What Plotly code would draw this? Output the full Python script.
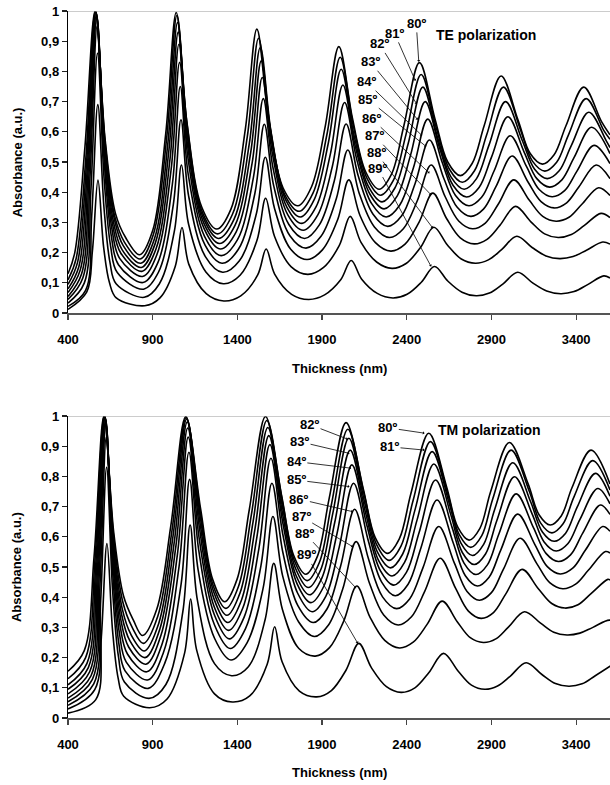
import plotly.graph_objects as go

# ---------------- data ----------------
angles = [80, 81, 82, 83, 84, 85, 86, 87, 88, 89]

# TE polarization: thickness (nm) and absorbance points along each curve (80..89 deg)
te_x = [
    [400, 440, 500, 560, 620, 680, 740, 823, 900, 977, 1039, 1101, 1190, 1278, 1362, 1447, 1515, 1583, 1670, 1757, 1838, 1919, 1999, 2079, 2158, 2237, 2310, 2383, 2475, 2567, 2642, 2716, 2786, 2857, 2957, 3057, 3129, 3201, 3270, 3340, 3445, 3550, 3600],
    [400, 448, 505, 562, 619, 676, 733, 826, 904, 983, 1043, 1103, 1193, 1283, 1371, 1459, 1525, 1591, 1678, 1765, 1847, 1929, 2007, 2085, 2166, 2246, 2320, 2395, 2485, 2575, 2652, 2728, 2800, 2872, 2971, 3070, 3142, 3215, 3285, 3355, 3459, 3563, 3600],
    [400, 456, 510, 564, 618, 672, 726, 830, 910, 990, 1047, 1104, 1196, 1288, 1380, 1471, 1535, 1599, 1686, 1773, 1855, 1937, 2013, 2089, 2172, 2254, 2330, 2407, 2495, 2583, 2661, 2739, 2812, 2885, 2983, 3081, 3155, 3229, 3300, 3372, 3475, 3578, 3600],
    [400, 464, 515, 566, 617, 668, 719, 833, 914, 996, 1051, 1106, 1200, 1294, 1386, 1479, 1541, 1603, 1692, 1781, 1865, 1949, 2023, 2097, 2182, 2266, 2344, 2422, 2509, 2596, 2674, 2753, 2827, 2901, 2997, 3093, 3168, 3244, 3316, 3389, 3491, 3600],
    [400, 472, 520, 568, 616, 664, 712, 836, 920, 1003, 1055, 1107, 1203, 1299, 1393, 1487, 1547, 1607, 1698, 1789, 1875, 1961, 2033, 2105, 2192, 2278, 2358, 2439, 2524, 2609, 2688, 2767, 2842, 2916, 3011, 3106, 3182, 3258, 3332, 3405, 3506, 3600],
    [400, 480, 525, 570, 615, 660, 705, 840, 924, 1009, 1059, 1109, 1206, 1304, 1400, 1495, 1553, 1611, 1704, 1797, 1884, 1972, 2042, 2112, 2200, 2288, 2369, 2450, 2534, 2618, 2698, 2778, 2853, 2928, 3022, 3116, 3193, 3270, 3344, 3418, 3518, 3600],
    [400, 488, 530, 572, 614, 656, 698, 843, 930, 1016, 1063, 1110, 1210, 1309, 1406, 1503, 1559, 1615, 1710, 1805, 1894, 1984, 2052, 2120, 2209, 2298, 2380, 2461, 2544, 2627, 2708, 2788, 2864, 2940, 3032, 3124, 3203, 3282, 3358, 3434, 3533, 3600],
    [400, 496, 535, 574, 613, 652, 691, 846, 934, 1022, 1067, 1112, 1212, 1313, 1412, 1511, 1565, 1619, 1715, 1811, 1902, 1992, 2058, 2124, 2215, 2306, 2390, 2473, 2554, 2635, 2716, 2798, 2874, 2951, 3042, 3133, 3214, 3294, 3372, 3449, 3547, 3600],
    [400, 504, 540, 576, 612, 648, 684, 850, 939, 1028, 1070, 1112, 1214, 1317, 1416, 1515, 1567, 1619, 1718, 1816, 1909, 2002, 2066, 2130, 2222, 2313, 2396, 2480, 2560, 2640, 2722, 2805, 2882, 2960, 3050, 3140, 3222, 3303, 3382, 3461, 3557, 3600],
    [400, 511, 544, 577, 610, 645, 685, 853, 943, 1033, 1073, 1113, 1216, 1320, 1420, 1520, 1570, 1620, 1720, 1821, 1915, 2010, 2072, 2134, 2226, 2318, 2402, 2486, 2564, 2642, 2726, 2810, 2888, 2967, 3055, 3143, 3226, 3309, 3388, 3468, 3563, 3600],
]
te_y = [
    [0.13, 0.20, 0.55, 1.0, 0.57, 0.33, 0.25, 0.193, 0.273, 0.594, 0.995, 0.637, 0.350, 0.278, 0.344, 0.609, 0.94, 0.648, 0.414, 0.355, 0.418, 0.619, 0.882, 0.646, 0.467, 0.41, 0.46, 0.62, 0.829, 0.642, 0.50, 0.455, 0.495, 0.62, 0.785, 0.639, 0.528, 0.493, 0.524, 0.62, 0.748, 0.634, 0.59],
    [0.11, 0.18, 0.51, 1.0, 0.565, 0.32, 0.235, 0.179, 0.26, 0.582, 0.985, 0.624, 0.334, 0.262, 0.327, 0.586, 0.91, 0.624, 0.394, 0.337, 0.398, 0.592, 0.847, 0.619, 0.445, 0.39, 0.438, 0.59, 0.79, 0.612, 0.476, 0.433, 0.471, 0.59, 0.748, 0.609, 0.503, 0.47, 0.499, 0.59, 0.71, 0.605, 0.575],
    [0.095, 0.167, 0.50, 0.998, 0.557, 0.315, 0.223, 0.165, 0.245, 0.564, 0.962, 0.605, 0.319, 0.247, 0.31, 0.563, 0.879, 0.599, 0.374, 0.318, 0.377, 0.563, 0.807, 0.588, 0.421, 0.368, 0.414, 0.558, 0.748, 0.579, 0.451, 0.41, 0.445, 0.555, 0.70, 0.573, 0.476, 0.445, 0.471, 0.555, 0.665, 0.57, 0.548],
    [0.08, 0.153, 0.49, 0.995, 0.548, 0.303, 0.21, 0.151, 0.229, 0.54, 0.93, 0.58, 0.30, 0.23, 0.29, 0.533, 0.835, 0.566, 0.351, 0.297, 0.352, 0.526, 0.755, 0.55, 0.394, 0.345, 0.388, 0.522, 0.70, 0.542, 0.422, 0.384, 0.416, 0.517, 0.65, 0.533, 0.445, 0.417, 0.441, 0.516, 0.615, 0.528],
    [0.068, 0.142, 0.483, 0.99, 0.538, 0.291, 0.198, 0.138, 0.213, 0.514, 0.89, 0.551, 0.28, 0.212, 0.269, 0.496, 0.78, 0.527, 0.325, 0.274, 0.325, 0.486, 0.697, 0.508, 0.363, 0.318, 0.357, 0.48, 0.642, 0.499, 0.389, 0.355, 0.383, 0.471, 0.587, 0.486, 0.409, 0.385, 0.405, 0.47, 0.555, 0.495],
    [0.055, 0.129, 0.471, 0.98, 0.525, 0.276, 0.181, 0.121, 0.192, 0.476, 0.83, 0.51, 0.254, 0.19, 0.242, 0.45, 0.71, 0.479, 0.293, 0.247, 0.292, 0.437, 0.626, 0.457, 0.328, 0.287, 0.321, 0.43, 0.573, 0.447, 0.35, 0.32, 0.344, 0.42, 0.52, 0.434, 0.369, 0.348, 0.365, 0.419, 0.49, 0.445],
    [0.045, 0.117, 0.452, 0.95, 0.50, 0.254, 0.16, 0.101, 0.166, 0.426, 0.75, 0.458, 0.224, 0.165, 0.211, 0.395, 0.625, 0.42, 0.256, 0.215, 0.254, 0.378, 0.54, 0.395, 0.285, 0.25, 0.279, 0.37, 0.49, 0.385, 0.304, 0.279, 0.298, 0.36, 0.441, 0.373, 0.32, 0.304, 0.317, 0.36, 0.415, 0.389],
    [0.033, 0.099, 0.405, 0.86, 0.446, 0.22, 0.134, 0.079, 0.135, 0.36, 0.64, 0.388, 0.186, 0.135, 0.173, 0.326, 0.516, 0.347, 0.211, 0.177, 0.209, 0.309, 0.441, 0.323, 0.233, 0.205, 0.228, 0.301, 0.397, 0.313, 0.249, 0.229, 0.244, 0.291, 0.353, 0.302, 0.262, 0.25, 0.26, 0.29, 0.33, 0.316],
    [0.022, 0.075, 0.322, 0.69, 0.352, 0.167, 0.097, 0.052, 0.096, 0.271, 0.49, 0.294, 0.136, 0.097, 0.125, 0.239, 0.38, 0.254, 0.153, 0.128, 0.151, 0.224, 0.32, 0.234, 0.169, 0.148, 0.164, 0.216, 0.284, 0.225, 0.179, 0.165, 0.176, 0.21, 0.254, 0.217, 0.189, 0.18, 0.187, 0.208, 0.235, 0.228],
    [0.012, 0.07, 0.205, 0.44, 0.22, 0.10, 0.05, 0.024, 0.05, 0.154, 0.283, 0.162, 0.064, 0.04, 0.057, 0.126, 0.212, 0.129, 0.062, 0.045, 0.06, 0.11, 0.174, 0.112, 0.065, 0.05, 0.062, 0.102, 0.154, 0.106, 0.069, 0.057, 0.066, 0.096, 0.135, 0.10, 0.073, 0.064, 0.071, 0.094, 0.123, 0.116],
]

# TM polarization
tm_x = [
    [400, 496, 554, 612, 670, 728, 786, 840, 924, 1007, 1095, 1183, 1254, 1325, 1398, 1471, 1566, 1661, 1732, 1804, 1873, 1942, 2042, 2142, 2214, 2286, 2356, 2425, 2530, 2635, 2702, 2768, 2832, 2896, 3006, 3116, 3182, 3247, 3312, 3376, 3488, 3600],
    [400, 504, 559, 614, 669, 724, 779, 845, 930, 1014, 1098, 1182, 1257, 1332, 1408, 1483, 1574, 1665, 1738, 1812, 1884, 1955, 2052, 2149, 2222, 2296, 2366, 2437, 2540, 2643, 2710, 2778, 2843, 2908, 3016, 3124, 3190, 3257, 3322, 3388, 3498, 3600],
    [400, 512, 564, 616, 668, 720, 772, 850, 936, 1021, 1101, 1181, 1260, 1338, 1416, 1493, 1580, 1667, 1743, 1819, 1892, 1964, 2058, 2152, 2228, 2304, 2376, 2449, 2550, 2651, 2720, 2788, 2854, 2920, 3026, 3132, 3201, 3270, 3338, 3406, 3514, 3600],
    [400, 520, 569, 618, 667, 716, 765, 855, 942, 1029, 1104, 1179, 1261, 1343, 1424, 1504, 1586, 1668, 1747, 1826, 1900, 1975, 2066, 2157, 2235, 2313, 2387, 2461, 2560, 2659, 2728, 2798, 2865, 2932, 3036, 3140, 3211, 3282, 3352, 3422, 3528, 3600],
    [400, 528, 574, 620, 666, 712, 758, 860, 948, 1037, 1107, 1177, 1262, 1348, 1432, 1515, 1592, 1669, 1752, 1834, 1911, 1988, 2076, 2164, 2244, 2323, 2398, 2473, 2570, 2667, 2738, 2808, 2876, 2944, 3046, 3148, 3222, 3295, 3367, 3439, 3543, 3600],
    [400, 536, 579, 622, 665, 708, 751, 865, 956, 1046, 1110, 1174, 1264, 1353, 1440, 1527, 1598, 1669, 1756, 1842, 1922, 2001, 2086, 2171, 2252, 2332, 2408, 2484, 2579, 2674, 2746, 2817, 2886, 2955, 3055, 3155, 3230, 3306, 3380, 3455, 3557, 3600],
    [400, 544, 584, 624, 664, 704, 744, 870, 963, 1056, 1114, 1172, 1265, 1358, 1448, 1539, 1604, 1669, 1758, 1848, 1929, 2010, 2092, 2174, 2257, 2340, 2418, 2496, 2589, 2682, 2756, 2829, 2900, 2971, 3069, 3167, 3244, 3321, 3397, 3473, 3573, 3600],
    [400, 552, 589, 626, 663, 700, 737, 874, 971, 1068, 1118, 1168, 1265, 1362, 1457, 1552, 1610, 1668, 1762, 1855, 1938, 2022, 2101, 2180, 2264, 2349, 2428, 2506, 2597, 2688, 2764, 2839, 2912, 2985, 3081, 3177, 3256, 3334, 3411, 3488, 3587, 3600],
    [400, 558, 593, 628, 663, 698, 733, 878, 978, 1078, 1121, 1164, 1265, 1366, 1465, 1564, 1615, 1666, 1763, 1860, 1944, 2028, 2105, 2182, 2270, 2357, 2438, 2520, 2609, 2698, 2775, 2852, 2926, 3000, 3095, 3190, 3268, 3346, 3422, 3499, 3597, 3650],
    [400, 564, 597, 630, 663, 696, 729, 882, 985, 1088, 1124, 1160, 1265, 1370, 1473, 1576, 1620, 1664, 1766, 1868, 1955, 2042, 2117, 2192, 2280, 2367, 2448, 2530, 2617, 2704, 2782, 2861, 2936, 3012, 3105, 3198, 3278, 3357, 3435, 3513, 3610],
]
tm_y = [
    [0.155, 0.223, 0.535, 1.0, 0.615, 0.404, 0.324, 0.273, 0.36, 0.636, 0.998, 0.692, 0.459, 0.385, 0.459, 0.692, 0.998, 0.737, 0.539, 0.476, 0.536, 0.727, 0.978, 0.762, 0.597, 0.545, 0.593, 0.744, 0.943, 0.766, 0.631, 0.589, 0.628, 0.751, 0.912, 0.776, 0.672, 0.639, 0.669, 0.763, 0.887, 0.775],
    [0.13, 0.2, 0.522, 1.0, 0.601, 0.383, 0.3, 0.247, 0.337, 0.621, 0.995, 0.679, 0.439, 0.363, 0.438, 0.674, 0.985, 0.72, 0.519, 0.455, 0.515, 0.706, 0.956, 0.739, 0.574, 0.522, 0.569, 0.719, 0.915, 0.74, 0.607, 0.565, 0.604, 0.726, 0.887, 0.75, 0.646, 0.613, 0.642, 0.733, 0.852, 0.755],
    [0.11, 0.181, 0.51, 1.0, 0.588, 0.362, 0.276, 0.222, 0.314, 0.606, 0.99, 0.665, 0.418, 0.34, 0.415, 0.651, 0.962, 0.697, 0.496, 0.432, 0.491, 0.679, 0.926, 0.712, 0.548, 0.497, 0.543, 0.69, 0.882, 0.71, 0.579, 0.538, 0.575, 0.692, 0.845, 0.715, 0.616, 0.585, 0.612, 0.698, 0.81, 0.734],
    [0.095, 0.167, 0.501, 0.998, 0.575, 0.344, 0.256, 0.2, 0.294, 0.59, 0.98, 0.648, 0.396, 0.316, 0.39, 0.626, 0.935, 0.672, 0.471, 0.408, 0.465, 0.648, 0.887, 0.679, 0.52, 0.47, 0.515, 0.656, 0.841, 0.675, 0.548, 0.508, 0.543, 0.654, 0.799, 0.676, 0.583, 0.553, 0.578, 0.657, 0.76, 0.709],
    [0.08, 0.153, 0.492, 0.995, 0.562, 0.325, 0.235, 0.178, 0.272, 0.569, 0.96, 0.625, 0.37, 0.29, 0.364, 0.598, 0.905, 0.644, 0.445, 0.382, 0.437, 0.61, 0.838, 0.639, 0.488, 0.44, 0.482, 0.614, 0.788, 0.632, 0.513, 0.475, 0.507, 0.609, 0.742, 0.63, 0.545, 0.518, 0.54, 0.612, 0.705, 0.674],
    [0.066, 0.14, 0.482, 0.99, 0.546, 0.304, 0.212, 0.153, 0.246, 0.542, 0.93, 0.596, 0.342, 0.262, 0.334, 0.561, 0.86, 0.606, 0.413, 0.352, 0.403, 0.565, 0.777, 0.591, 0.45, 0.405, 0.443, 0.564, 0.722, 0.58, 0.471, 0.437, 0.466, 0.556, 0.675, 0.576, 0.501, 0.477, 0.496, 0.556, 0.634, 0.618],
    [0.054, 0.128, 0.468, 0.975, 0.525, 0.279, 0.185, 0.126, 0.216, 0.503, 0.88, 0.555, 0.308, 0.23, 0.296, 0.504, 0.777, 0.547, 0.371, 0.316, 0.361, 0.504, 0.691, 0.527, 0.401, 0.362, 0.395, 0.498, 0.634, 0.512, 0.419, 0.39, 0.415, 0.493, 0.595, 0.512, 0.448, 0.428, 0.443, 0.49, 0.551, 0.546],
    [0.042, 0.113, 0.442, 0.93, 0.489, 0.248, 0.156, 0.098, 0.181, 0.444, 0.79, 0.491, 0.264, 0.192, 0.249, 0.43, 0.667, 0.469, 0.318, 0.27, 0.308, 0.427, 0.584, 0.446, 0.341, 0.308, 0.335, 0.419, 0.529, 0.43, 0.354, 0.33, 0.349, 0.411, 0.492, 0.428, 0.379, 0.364, 0.375, 0.412, 0.459, 0.457],
    [0.03, 0.094, 0.39, 0.83, 0.425, 0.203, 0.119, 0.065, 0.111, 0.352, 0.639, 0.39, 0.18, 0.14, 0.17, 0.326, 0.512, 0.359, 0.23, 0.205, 0.233, 0.321, 0.437, 0.335, 0.257, 0.232, 0.251, 0.31, 0.387, 0.319, 0.266, 0.25, 0.262, 0.301, 0.352, 0.314, 0.284, 0.275, 0.281, 0.30, 0.324, 0.31],
    [0.016, 0.061, 0.269, 0.578, 0.29, 0.132, 0.072, 0.034, 0.063, 0.214, 0.394, 0.224, 0.08, 0.053, 0.073, 0.178, 0.302, 0.186, 0.089, 0.07, 0.091, 0.159, 0.247, 0.166, 0.104, 0.085, 0.1, 0.15, 0.214, 0.155, 0.109, 0.095, 0.106, 0.139, 0.183, 0.144, 0.114, 0.105, 0.113, 0.14, 0.175],
]

x_ticks = [400, 900, 1400, 1900, 2400, 2900, 3400]
x_tick_labels = ["400", "900", "1400", "1900", "2400", "2900", "3400"]
y_ticks = [0, 0.1, 0.2, 0.3, 0.4, 0.5, 0.6, 0.7, 0.8, 0.9, 1.0]
y_tick_labels = ["0", "0,1", "0,2", "0,3", "0,4", "0,5", "0,6", "0,7", "0,8", "0,9", "1"]

# angle labels: text anchor and arrow tip, in data units
te_label_x = [2456, 2328, 2239, 2184, 2161, 2170, 2190, 2210, 2220, 2229]
te_label_y = [0.959, 0.926, 0.891, 0.832, 0.766, 0.708, 0.645, 0.587, 0.531, 0.48]
te_tip_x = [2471, 2451, 2459, 2465, 2491, 2515, 2534, 2544, 2554, 2544]
te_tip_y = [0.832, 0.769, 0.692, 0.64, 0.587, 0.551, 0.463, 0.391, 0.281, 0.154]

tm_label_x = [2288, 2298, 1826, 1767, 1748, 1748, 1763, 1777, 1797, 1807]
tm_label_y = [0.961, 0.898, 0.972, 0.915, 0.849, 0.788, 0.725, 0.667, 0.612, 0.54]
tm_tip_x = [2505, 2505, 2052, 2062, 2072, 2062, 2082, 2082, 2101, 2111]
tm_tip_y = [0.943, 0.887, 0.923, 0.876, 0.827, 0.766, 0.683, 0.567, 0.43, 0.247]

for xs, ys in zip(te_x + tm_x, te_y + tm_y):
    assert len(xs) == len(ys), (len(xs), len(ys), xs[:3])

# ---------------- figure ----------------
FONT = "Liberation Sans, Arial, sans-serif"
fig = go.Figure()
LINE = dict(color="black", width=1.6, shape="spline", smoothing=1.0)

for xs, ys in zip(te_x, te_y):
    fig.add_trace(go.Scatter(x=xs, y=ys, mode="lines", xaxis="x", yaxis="y",
                             line=LINE, showlegend=False, hoverinfo="skip"))
for xs, ys in zip(tm_x, tm_y):
    fig.add_trace(go.Scatter(x=xs, y=ys, mode="lines", xaxis="x2", yaxis="y2",
                             line=LINE, showlegend=False, hoverinfo="skip"))

tick_font = dict(family=FONT, size=13, color="black", weight="bold")
xax = dict(range=[400, 3600], tickmode="array", tickvals=x_ticks, ticktext=x_tick_labels,
           ticks="outside", ticklen=5, tickwidth=1.2, tickcolor="#444",
           showline=True, linecolor="#555", linewidth=1.6, showgrid=False, zeroline=False,
           tickfont=tick_font, ticklabelstandoff=9, automargin=False, fixedrange=True)
yax = dict(range=[0, 1], tickmode="array", tickvals=y_ticks, ticktext=y_tick_labels,
           ticks="outside", ticklen=5, tickwidth=1.2, tickcolor="#222",
           showline=True, linecolor="black", linewidth=1.2, showgrid=False, zeroline=False,
           tickfont=tick_font, automargin=False, fixedrange=True)

fig.update_layout(
    template="none",
    width=610, height=785,
    margin=dict(l=68, r=0, t=11, b=67, pad=0),
    paper_bgcolor="white", plot_bgcolor="white",
    xaxis=dict(xax, anchor="y"),
    yaxis=dict(yax, domain=[0.5728, 1.0], anchor="x"),
    xaxis2=dict(xax, anchor="y2"),
    yaxis2=dict(yax, domain=[0.0, 0.4272], anchor="x2"),
)

# grey border line at absorbance 1 on both panels
for xr, yr in (("x", "y"), ("x2", "y2")):
    fig.add_shape(type="line", xref=xr, yref=yr, x0=400, x1=3600, y0=1, y1=1,
                  line=dict(color="#9a9a9a", width=1.2))

ann = []
bold = dict(family=FONT, size=13, color="black", weight="bold")
for ypos in (0.495, -0.0764):
    ann.append(dict(xref="paper", yref="paper", x=0.5, y=ypos, text="Thickness (nm)",
                    showarrow=False, font=bold, xanchor="center", yanchor="middle"))
for ypos in (0.786, 0.2136):
    ann.append(dict(xref="paper", yref="paper", x=-0.094, y=ypos, text="Absorbance (a.u.)",
                    showarrow=False, font=bold, textangle=-90, xanchor="center", yanchor="middle"))
title_font = dict(family=FONT, size=14, color="black", weight="bold")
ann.append(dict(xref="paper", yref="paper", x=(538 - 68) / 542, y=(718 - 25) / 707,
                text="TE polarization", showarrow=False, font=title_font))
ann.append(dict(xref="paper", yref="paper", x=(543 - 68) / 542, y=(718 - 430) / 707,
                text="TM polarization", showarrow=False, font=title_font))

lab_font = dict(family=FONT, size=13, color="black", weight="bold")
for a, lx, ly, tx, ty in zip(angles, te_label_x, te_label_y, te_tip_x, te_tip_y):
    ann.append(dict(xref="x", yref="y", axref="x", ayref="y", x=tx, y=ty, ax=lx, ay=ly,
                    text=f"{a}º", font=lab_font, showarrow=True, arrowhead=1, arrowsize=0.7,
                    arrowwidth=0.8, arrowcolor="black", standoff=0, startstandoff=0))
for a, lx, ly, tx, ty in zip(angles, tm_label_x, tm_label_y, tm_tip_x, tm_tip_y):
    ann.append(dict(xref="x2", yref="y2", axref="x2", ayref="y2", x=tx, y=ty, ax=lx, ay=ly,
                    text=f"{a}º", font=lab_font, showarrow=True, arrowhead=1, arrowsize=0.7,
                    arrowwidth=0.8, arrowcolor="black", standoff=0, startstandoff=0))
fig.update_layout(annotations=ann)

# remove the browser's default 8px page margin so the figure fills the window exactly
fig.write_html("out.html",
               config={"displayModeBar": False, "staticPlot": True},
               post_script="document.body.style.margin='0px';document.body.style.overflow='hidden';")
